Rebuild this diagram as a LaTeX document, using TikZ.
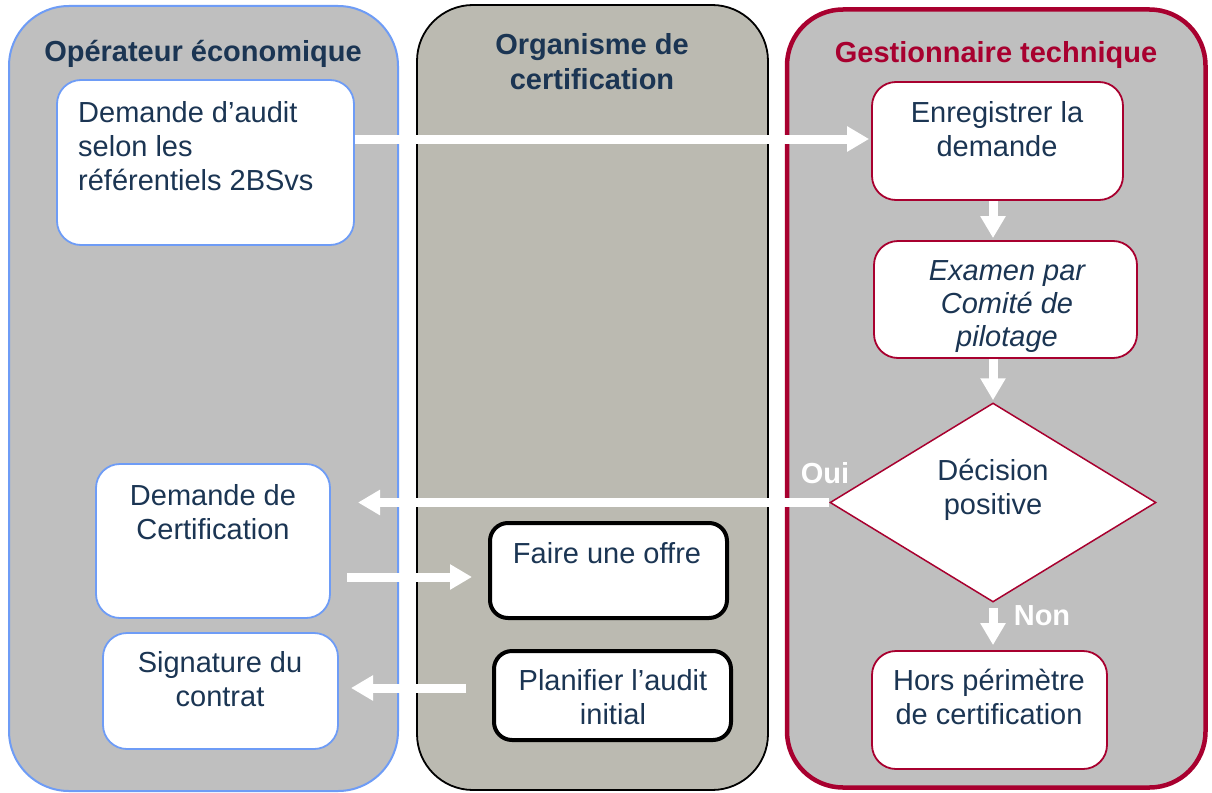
\documentclass[tikz,border=0pt]{standalone}
\usepackage{fontspec}
\setmainfont{Liberation Sans}
\usetikzlibrary{arrows.meta,shapes.geometric}
\definecolor{navy}{HTML}{1B3553}
\definecolor{laneGray}{HTML}{BFBFBF}
\definecolor{laneKhaki}{HTML}{BBBAB1}
\definecolor{blueB}{HTML}{6E9CF6}
\definecolor{redB}{HTML}{A8002F}
\newcommand{\mylines}[2][c]{\begin{tabular}[t]{@{}#1@{}}#2\end{tabular}}
\begin{document}
\begin{tikzpicture}[x=1pt,y=-1pt,
  font=\fontsize{29}{34}\selectfont,
  lane/.style={inner sep=0pt, fill=laneGray},
  box/.style={draw, fill=white, line width=1.8pt, rounded corners=24pt, inner sep=0pt},
  bluebox/.style={box, draw=blueB},
  redbox/.style={box, draw=redB},
  blackbox/.style={box, draw=black, line width=4pt, rounded corners=18pt},
  txt/.style={inner sep=0pt, anchor=base, text=navy},
  ttl/.style={inner sep=0pt, anchor=base, font=\fontsize{29}{35}\selectfont\bfseries},
  lbl/.style={inner sep=0pt, anchor=base, text=white, font=\fontsize{29}{34}\selectfont\bfseries},
  arr/.style={draw=white, line width=9pt, -{Triangle[width=24pt,length=22pt]}}
]
\useasboundingbox (0,0) rectangle (1212,792);
\fill[white] (0,0) rectangle (1212,792);

% lanes
\node[lane, draw=blueB, line width=2pt, rounded corners=60pt, minimum width=389pt, minimum height=785pt] (L1) at (203.5,398.5) {};
\node[lane, fill=laneKhaki, draw=black, line width=1.8pt, rounded corners=56pt, minimum width=351pt, minimum height=785pt] (L2) at (592.5,397.5) {};
\node[lane, draw=redB, line width=4.5pt, rounded corners=56pt, minimum width=418.5pt, minimum height=778pt] (L3) at (996.25,398.5) {};

% titles
\node[ttl, text=navy] (T1) at (203,62) {Opérateur économique};
\node[ttl, text=navy] (T2) at (592,55) {\mylines{Organisme de\\certification}};
\node[ttl, text=redB] (T3) at (996,63) {Gestionnaire technique};

% boxes
\node[bluebox, minimum width=297pt, minimum height=165pt] (b1) at (205.5,162.5) {};
\node[txt, anchor=base west] (b1t) at (78,122) {\mylines[l]{Demande d’audit\\selon les\\référentiels 2BSvs}};

\node[redbox, minimum width=251pt, minimum height=118pt] (bE) at (997.5,141) {};
\node[txt] (bEt) at (997,122) {\mylines{Enregistrer la\\demande}};

\node[redbox, minimum width=263pt, minimum height=117pt] (bX) at (1005.5,299.5) {};
\node[txt, font=\fontsize{29}{33}\selectfont\itshape] (bXt) at (1007,280) {\mylines{Examen par\\Comité de\\pilotage}};

\node[diamond, draw=redB, fill=white, line width=1.5pt, inner sep=0pt, minimum width=326pt, minimum height=199pt] (dia) at (993,502.5) {};
\node[txt] (diat) at (993,480) {\mylines{Décision\\positive}};

\node[redbox, minimum width=235pt, minimum height=118pt] (bH) at (989.5,710) {};
\node[txt] (bHt) at (989,690) {\mylines{Hors périmètre\\de certification}};

\node[bluebox, minimum width=234pt, minimum height=154pt] (bC) at (213,541) {};
\node[txt] (bCt) at (213,505) {\mylines{Demande de\\Certification}};

\node[bluebox, minimum width=235pt, minimum height=116pt] (bS) at (220.5,691) {};
\node[txt] (bSt) at (220,672) {\mylines{Signature du\\contrat}};

\node[blackbox, minimum width=237pt, minimum height=95pt] (bF) at (608.5,570.5) {};
\node[txt] (bFt) at (607,563) {Faire une offre};

\node[blackbox, minimum width=237pt, minimum height=89pt] (bP) at (612.5,695.5) {};
\node[txt] (bPt) at (613,690) {\mylines{Planifier l’audit\\initial}};

% labels
\node[lbl] (oui) at (825,483) {Oui};
\node[lbl] (non) at (1042,625) {Non};

% arrows
\coordinate (oE) at (358,502.5);
\coordinate (fS) at (347,577);
\coordinate (fE) at (472,577);
\coordinate (pS) at (466,688);
\coordinate (pE) at (351,688);

\draw[arr, shorten >=2pt] ([yshift=2pt]b1.east |- bE.west) -- ([yshift=2pt]bE.west);
\draw[arr, shorten >=2pt] (dia.north |- bE.south) -- (dia.north |- bX.north);
\draw[arr, shorten >=2pt] (dia.north |- bX.south) -- (dia.north);
\draw[arr] (dia.west) -- (oE);
\draw[arr, shorten <=5pt, shorten >=5pt] (dia.south) -- (dia.south |- bH.north);
\draw[arr] (fS) -- (fE);
\draw[arr] (pS) -- (pE);
\end{tikzpicture}
\end{document}
